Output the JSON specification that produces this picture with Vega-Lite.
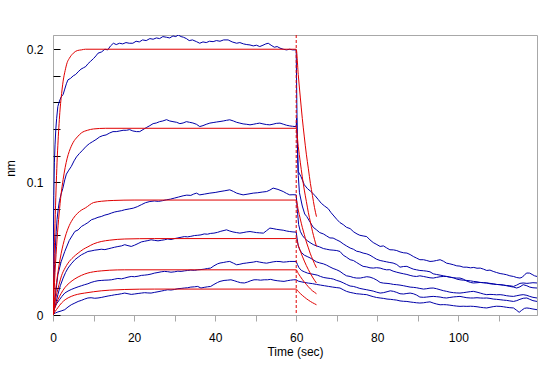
{
"$schema":"https://vega.github.io/schema/vega-lite/v6.json",
"width":484,"height":280,
"autosize":{"type":"none"},
"padding":{"left":53,"top":35,"right":10,"bottom":51},
"background":"white",
"config":{"view":{"stroke":"#a8a8a8","strokeWidth":1},"font":"Liberation Sans"},
"datasets":{
"blue":[
{"c":"A","t":0,"v":0},{"c":"A","t":0.1,"v":0.055},{"c":"A","t":0.2,"v":0.09},{"c":"A","t":0.35,"v":0.115},{"c":"A","t":0.5,"v":0.128},{"c":"A","t":0.7,"v":0.14},{"c":"A","t":0.9,"v":0.148},{"c":"A","t":1.2,"v":0.157},{"c":"A","t":1.6,"v":0.161},{"c":"A","t":2,"v":0.164},{"c":"A","t":2.5,"v":0.166},{"c":"A","t":2.9,"v":0.17},{"c":"A","t":3.3,"v":0.174},{"c":"A","t":3.7,"v":0.177},{"c":"A","t":4.3,"v":0.178},{"c":"A","t":5,"v":0.18},{"c":"A","t":5.6,"v":0.181},{"c":"A","t":6.2,"v":0.183},{"c":"A","t":6.9,"v":0.185},{"c":"A","t":7.5,"v":0.186},{"c":"A","t":8.1,"v":0.187},{"c":"A","t":8.6,"v":0.189},{"c":"A","t":9.3,"v":0.191},{"c":"A","t":10,"v":0.193},{"c":"A","t":10.6,"v":0.195},{"c":"A","t":11.1,"v":0.197},{"c":"A","t":12,"v":0.198},{"c":"A","t":12.8,"v":0.2},{"c":"A","t":13.5,"v":0.1995},{"c":"A","t":14.2,"v":0.2025},{"c":"A","t":14.9,"v":0.2045},{"c":"A","t":15.6,"v":0.2035},{"c":"A","t":16.4,"v":0.2045},{"c":"A","t":17.2,"v":0.204},{"c":"A","t":18,"v":0.205},{"c":"A","t":18.8,"v":0.2045},{"c":"A","t":19.7,"v":0.2045},{"c":"A","t":20.5,"v":0.206},{"c":"A","t":21.3,"v":0.2055},{"c":"A","t":22.1,"v":0.207},{"c":"A","t":23,"v":0.2065},{"c":"A","t":23.9,"v":0.208},{"c":"A","t":24.7,"v":0.2075},{"c":"A","t":25.5,"v":0.2085},{"c":"A","t":26.3,"v":0.208},{"c":"A","t":27.1,"v":0.2095},{"c":"A","t":28,"v":0.209},{"c":"A","t":28.8,"v":0.2085},{"c":"A","t":29.6,"v":0.21},{"c":"A","t":30.3,"v":0.2095},{"c":"A","t":30.9,"v":0.2107},{"c":"A","t":31.6,"v":0.2095},{"c":"A","t":32.2,"v":0.209},{"c":"A","t":32.9,"v":0.208},{"c":"A","t":33.6,"v":0.2065},{"c":"A","t":34.4,"v":0.207},{"c":"A","t":35.4,"v":0.2057},{"c":"A","t":36.2,"v":0.2045},{"c":"A","t":37,"v":0.2055},{"c":"A","t":37.8,"v":0.205},{"c":"A","t":38.6,"v":0.206},{"c":"A","t":39.5,"v":0.2057},{"c":"A","t":40.3,"v":0.2065},{"c":"A","t":41.2,"v":0.206},{"c":"A","t":42.1,"v":0.207},{"c":"A","t":43.2,"v":0.207},{"c":"A","t":44.2,"v":0.2055},{"c":"A","t":45.3,"v":0.2045},{"c":"A","t":46.1,"v":0.205},{"c":"A","t":47,"v":0.204},{"c":"A","t":47.8,"v":0.2035},{"c":"A","t":48.6,"v":0.2032},{"c":"A","t":49.4,"v":0.2025},{"c":"A","t":50.2,"v":0.203},{"c":"A","t":51,"v":0.202},{"c":"A","t":51.8,"v":0.203},{"c":"A","t":52.5,"v":0.204},{"c":"A","t":53.1,"v":0.2045},{"c":"A","t":53.8,"v":0.203},{"c":"A","t":54.6,"v":0.2015},{"c":"A","t":55.3,"v":0.202},{"c":"A","t":56,"v":0.2008},{"c":"A","t":56.8,"v":0.2},{"c":"A","t":57.6,"v":0.1995},{"c":"A","t":58.4,"v":0.2},{"c":"A","t":59.1,"v":0.1995},{"c":"A","t":60,"v":0.1995},{"c":"A","t":60.15,"v":0.16},{"c":"A","t":60.3,"v":0.125},{"c":"A","t":60.5,"v":0.108},{"c":"A","t":61.2,"v":0.104},{"c":"A","t":62,"v":0.098},{"c":"A","t":62.8,"v":0.095},{"c":"A","t":63.6,"v":0.093},{"c":"A","t":64.6,"v":0.09},{"c":"A","t":65.4,"v":0.087},{"c":"A","t":66.2,"v":0.084},{"c":"A","t":67,"v":0.082},{"c":"A","t":67.9,"v":0.08},{"c":"A","t":68.6,"v":0.077},{"c":"A","t":69.3,"v":0.0745},{"c":"A","t":70,"v":0.072},{"c":"A","t":70.8,"v":0.0695},{"c":"A","t":71.6,"v":0.068},{"c":"A","t":72.4,"v":0.066},{"c":"A","t":73.3,"v":0.065},{"c":"A","t":74.2,"v":0.0625},{"c":"A","t":75,"v":0.061},{"c":"A","t":75.7,"v":0.06},{"c":"A","t":76.5,"v":0.0595},{"c":"A","t":77.4,"v":0.059},{"c":"A","t":78.2,"v":0.0565},{"c":"A","t":79,"v":0.0545},{"c":"A","t":79.9,"v":0.053},{"c":"A","t":80.7,"v":0.0516},{"c":"A","t":81.5,"v":0.052},{"c":"A","t":82.3,"v":0.0505},{"c":"A","t":83.1,"v":0.0491},{"c":"A","t":84,"v":0.049},{"c":"A","t":84.8,"v":0.0485},{"c":"A","t":85.6,"v":0.0475},{"c":"A","t":86.5,"v":0.0468},{"c":"A","t":87.3,"v":0.0466},{"c":"A","t":88.1,"v":0.0455},{"c":"A","t":88.9,"v":0.044},{"c":"A","t":89.7,"v":0.0428},{"c":"A","t":90.5,"v":0.0416},{"c":"A","t":91.4,"v":0.0416},{"c":"A","t":92.2,"v":0.041},{"c":"A","t":93,"v":0.0403},{"c":"A","t":93.8,"v":0.0405},{"c":"A","t":94.6,"v":0.041},{"c":"A","t":95.5,"v":0.0416},{"c":"A","t":96.3,"v":0.0405},{"c":"A","t":97.1,"v":0.039},{"c":"A","t":97.9,"v":0.0385},{"c":"A","t":98.8,"v":0.0378},{"c":"A","t":99.6,"v":0.037},{"c":"A","t":100.4,"v":0.0368},{"c":"A","t":101.2,"v":0.036},{"c":"A","t":102.1,"v":0.036},{"c":"A","t":103,"v":0.0355},{"c":"A","t":103.8,"v":0.0358},{"c":"A","t":104.6,"v":0.0352},{"c":"A","t":105.4,"v":0.0353},{"c":"A","t":106.2,"v":0.0345},{"c":"A","t":107,"v":0.0335},{"c":"A","t":107.8,"v":0.0338},{"c":"A","t":108.6,"v":0.0328},{"c":"A","t":109.4,"v":0.032},{"c":"A","t":110.3,"v":0.0312},{"c":"A","t":111.1,"v":0.0308},{"c":"A","t":111.9,"v":0.0303},{"c":"A","t":112.7,"v":0.0295},{"c":"A","t":113.6,"v":0.029},{"c":"A","t":114.4,"v":0.0282},{"c":"A","t":115.2,"v":0.0278},{"c":"A","t":115.8,"v":0.0285},{"c":"A","t":116.4,"v":0.0305},{"c":"A","t":116.9,"v":0.0316},{"c":"A","t":117.6,"v":0.0315},{"c":"A","t":118.2,"v":0.0305},{"c":"A","t":118.8,"v":0.0295},{"c":"A","t":119.4,"v":0.029},
{"c":"B","t":0,"v":0},{"c":"B","t":0.2,"v":0.02},{"c":"B","t":0.4,"v":0.038},{"c":"B","t":0.6,"v":0.052},{"c":"B","t":0.8,"v":0.063},{"c":"B","t":1,"v":0.072},{"c":"B","t":1.3,"v":0.08},{"c":"B","t":1.6,"v":0.086},{"c":"B","t":2,"v":0.091},{"c":"B","t":2.4,"v":0.095},{"c":"B","t":2.9,"v":0.1017},{"c":"B","t":3.3,"v":0.106},{"c":"B","t":3.9,"v":0.109},{"c":"B","t":4.5,"v":0.1117},{"c":"B","t":5.2,"v":0.116},{"c":"B","t":5.8,"v":0.119},{"c":"B","t":6.5,"v":0.1215},{"c":"B","t":7.3,"v":0.124},{"c":"B","t":8.2,"v":0.127},{"c":"B","t":9,"v":0.129},{"c":"B","t":9.8,"v":0.1305},{"c":"B","t":10.6,"v":0.132},{"c":"B","t":11.5,"v":0.134},{"c":"B","t":12.3,"v":0.135},{"c":"B","t":13.1,"v":0.1355},{"c":"B","t":14,"v":0.137},{"c":"B","t":14.8,"v":0.138},{"c":"B","t":15.6,"v":0.138},{"c":"B","t":16.5,"v":0.1385},{"c":"B","t":17.3,"v":0.139},{"c":"B","t":18.1,"v":0.139},{"c":"B","t":18.9,"v":0.1395},{"c":"B","t":19.7,"v":0.1385},{"c":"B","t":20.6,"v":0.138},{"c":"B","t":21.4,"v":0.138},{"c":"B","t":22.2,"v":0.1395},{"c":"B","t":23,"v":0.141},{"c":"B","t":23.9,"v":0.1425},{"c":"B","t":24.7,"v":0.144},{"c":"B","t":25.5,"v":0.1445},{"c":"B","t":26.3,"v":0.1455},{"c":"B","t":27.1,"v":0.146},{"c":"B","t":28,"v":0.147},{"c":"B","t":28.8,"v":0.146},{"c":"B","t":29.6,"v":0.1455},{"c":"B","t":30.5,"v":0.145},{"c":"B","t":31.3,"v":0.144},{"c":"B","t":32.1,"v":0.1445},{"c":"B","t":32.9,"v":0.1455},{"c":"B","t":33.7,"v":0.145},{"c":"B","t":34.5,"v":0.1445},{"c":"B","t":35.4,"v":0.1435},{"c":"B","t":36.2,"v":0.1418},{"c":"B","t":37,"v":0.1425},{"c":"B","t":37.8,"v":0.1435},{"c":"B","t":38.7,"v":0.1444},{"c":"B","t":39.5,"v":0.1448},{"c":"B","t":40.3,"v":0.1452},{"c":"B","t":41.2,"v":0.1456},{"c":"B","t":42,"v":0.146},{"c":"B","t":42.8,"v":0.1465},{"c":"B","t":43.6,"v":0.1469},{"c":"B","t":44.5,"v":0.146},{"c":"B","t":45.3,"v":0.145},{"c":"B","t":46.1,"v":0.1444},{"c":"B","t":46.9,"v":0.1438},{"c":"B","t":47.8,"v":0.1435},{"c":"B","t":48.6,"v":0.1431},{"c":"B","t":49.4,"v":0.1435},{"c":"B","t":50.2,"v":0.144},{"c":"B","t":51,"v":0.1444},{"c":"B","t":51.8,"v":0.1438},{"c":"B","t":52.7,"v":0.1433},{"c":"B","t":53.5,"v":0.1431},{"c":"B","t":54.3,"v":0.1436},{"c":"B","t":55.1,"v":0.1442},{"c":"B","t":56,"v":0.1444},{"c":"B","t":56.8,"v":0.1436},{"c":"B","t":57.6,"v":0.1428},{"c":"B","t":58.4,"v":0.1423},{"c":"B","t":59.1,"v":0.142},{"c":"B","t":59.7,"v":0.1418},{"c":"B","t":60,"v":0.142},{"c":"B","t":60.1,"v":0.148},{"c":"B","t":60.3,"v":0.128},{"c":"B","t":60.5,"v":0.105},{"c":"B","t":60.8,"v":0.092},{"c":"B","t":61.5,"v":0.082},{"c":"B","t":62.1,"v":0.076},{"c":"B","t":62.6,"v":0.0741},{"c":"B","t":63.4,"v":0.07},{"c":"B","t":64.2,"v":0.066},{"c":"B","t":65,"v":0.0641},{"c":"B","t":65.8,"v":0.062},{"c":"B","t":66.7,"v":0.061},{"c":"B","t":67.5,"v":0.0595},{"c":"B","t":68.3,"v":0.058},{"c":"B","t":69.1,"v":0.0579},{"c":"B","t":70,"v":0.0565},{"c":"B","t":70.8,"v":0.0553},{"c":"B","t":71.6,"v":0.0535},{"c":"B","t":72.4,"v":0.052},{"c":"B","t":73.3,"v":0.0504},{"c":"B","t":74.1,"v":0.0495},{"c":"B","t":74.9,"v":0.048},{"c":"B","t":75.7,"v":0.0475},{"c":"B","t":76.5,"v":0.0466},{"c":"B","t":77.4,"v":0.046},{"c":"B","t":78.2,"v":0.045},{"c":"B","t":79,"v":0.0435},{"c":"B","t":79.8,"v":0.042},{"c":"B","t":80.7,"v":0.041},{"c":"B","t":81.5,"v":0.0405},{"c":"B","t":82.3,"v":0.04},{"c":"B","t":83.1,"v":0.0395},{"c":"B","t":83.9,"v":0.0391},{"c":"B","t":84.8,"v":0.038},{"c":"B","t":85.6,"v":0.036},{"c":"B","t":86.5,"v":0.0365},{"c":"B","t":87.3,"v":0.0366},{"c":"B","t":88.1,"v":0.0355},{"c":"B","t":88.9,"v":0.0345},{"c":"B","t":89.7,"v":0.034},{"c":"B","t":90.5,"v":0.0335},{"c":"B","t":91.4,"v":0.0333},{"c":"B","t":92.2,"v":0.033},{"c":"B","t":93,"v":0.0325},{"c":"B","t":93.8,"v":0.031},{"c":"B","t":94.6,"v":0.0305},{"c":"B","t":95.5,"v":0.03},{"c":"B","t":96.3,"v":0.0295},{"c":"B","t":97.1,"v":0.029},{"c":"B","t":97.9,"v":0.0285},{"c":"B","t":98.8,"v":0.028},{"c":"B","t":99.6,"v":0.027},{"c":"B","t":100.4,"v":0.0265},{"c":"B","t":101.2,"v":0.0262},{"c":"B","t":102.1,"v":0.026},{"c":"B","t":103,"v":0.0257},{"c":"B","t":103.7,"v":0.0253},{"c":"B","t":104.6,"v":0.025},{"c":"B","t":105.4,"v":0.0245},{"c":"B","t":106.2,"v":0.0243},{"c":"B","t":107,"v":0.0241},{"c":"B","t":107.8,"v":0.0235},{"c":"B","t":108.6,"v":0.0232},{"c":"B","t":109.4,"v":0.023},{"c":"B","t":110.3,"v":0.0228},{"c":"B","t":111.1,"v":0.0225},{"c":"B","t":111.9,"v":0.0222},{"c":"B","t":112.7,"v":0.022},{"c":"B","t":113.6,"v":0.0215},{"c":"B","t":114.4,"v":0.0225},{"c":"B","t":115.2,"v":0.0238},{"c":"B","t":116,"v":0.0241},{"c":"B","t":116.9,"v":0.0238},{"c":"B","t":117.6,"v":0.024},{"c":"B","t":118.4,"v":0.0243},{"c":"B","t":119.4,"v":0.0241},
{"c":"C","t":0,"v":0},{"c":"C","t":0.5,"v":0.012},{"c":"C","t":1.2,"v":0.0303},{"c":"C","t":2,"v":0.04},{"c":"C","t":2.9,"v":0.0478},{"c":"C","t":4,"v":0.056},{"c":"C","t":4.7,"v":0.0595},{"c":"C","t":5.4,"v":0.0629},{"c":"C","t":6.2,"v":0.064},{"c":"C","t":7,"v":0.0666},{"c":"C","t":7.8,"v":0.068},{"c":"C","t":8.6,"v":0.0695},{"c":"C","t":9.5,"v":0.0717},{"c":"C","t":10.3,"v":0.0725},{"c":"C","t":11.1,"v":0.0735},{"c":"C","t":11.9,"v":0.0741},{"c":"C","t":12.8,"v":0.0752},{"c":"C","t":13.6,"v":0.0758},{"c":"C","t":14.4,"v":0.0767},{"c":"C","t":15.2,"v":0.0775},{"c":"C","t":16,"v":0.078},{"c":"C","t":16.9,"v":0.0785},{"c":"C","t":17.7,"v":0.0792},{"c":"C","t":18.8,"v":0.0798},{"c":"C","t":19.8,"v":0.0804},{"c":"C","t":20.8,"v":0.0815},{"c":"C","t":21.8,"v":0.083},{"c":"C","t":22.8,"v":0.0845},{"c":"C","t":23.9,"v":0.0854},{"c":"C","t":25,"v":0.0858},{"c":"C","t":26,"v":0.0855},{"c":"C","t":27,"v":0.086},{"c":"C","t":28,"v":0.0867},{"c":"C","t":29,"v":0.0872},{"c":"C","t":30,"v":0.088},{"c":"C","t":31,"v":0.0888},{"c":"C","t":32.1,"v":0.0897},{"c":"C","t":33,"v":0.0902},{"c":"C","t":34,"v":0.09},{"c":"C","t":34.7,"v":0.091},{"c":"C","t":35.4,"v":0.0917},{"c":"C","t":36.2,"v":0.0904},{"c":"C","t":37.4,"v":0.091},{"c":"C","t":38.7,"v":0.0917},{"c":"C","t":40,"v":0.0922},{"c":"C","t":41.2,"v":0.0929},{"c":"C","t":42.4,"v":0.0935},{"c":"C","t":43.6,"v":0.0942},{"c":"C","t":44.5,"v":0.093},{"c":"C","t":45.3,"v":0.0917},{"c":"C","t":46.1,"v":0.091},{"c":"C","t":46.9,"v":0.0904},{"c":"C","t":48.1,"v":0.091},{"c":"C","t":49.4,"v":0.0917},{"c":"C","t":50.5,"v":0.092},{"c":"C","t":51.6,"v":0.0925},{"c":"C","t":52.7,"v":0.0929},{"c":"C","t":53.5,"v":0.094},{"c":"C","t":54.3,"v":0.0955},{"c":"C","t":55.5,"v":0.0945},{"c":"C","t":56.8,"v":0.0929},{"c":"C","t":57.6,"v":0.0915},{"c":"C","t":58.4,"v":0.0904},{"c":"C","t":59.2,"v":0.0905},{"c":"C","t":60,"v":0.0904},{"c":"C","t":60.3,"v":0.078},{"c":"C","t":60.6,"v":0.068},{"c":"C","t":61,"v":0.063},{"c":"C","t":61.5,"v":0.06},{"c":"C","t":62,"v":0.058},{"c":"C","t":62.7,"v":0.056},{"c":"C","t":63.4,"v":0.0545},{"c":"C","t":64.2,"v":0.053},{"c":"C","t":65,"v":0.052},{"c":"C","t":65.8,"v":0.0512},{"c":"C","t":66.7,"v":0.05},{"c":"C","t":67.5,"v":0.0495},{"c":"C","t":68.3,"v":0.049},{"c":"C","t":69.1,"v":0.0488},{"c":"C","t":70,"v":0.0485},{"c":"C","t":70.8,"v":0.0478},{"c":"C","t":71.6,"v":0.045},{"c":"C","t":72.4,"v":0.0435},{"c":"C","t":73.3,"v":0.0416},{"c":"C","t":74.1,"v":0.041},{"c":"C","t":74.9,"v":0.0395},{"c":"C","t":75.7,"v":0.038},{"c":"C","t":76.5,"v":0.0366},{"c":"C","t":77.4,"v":0.0362},{"c":"C","t":78.2,"v":0.0355},{"c":"C","t":79,"v":0.0353},{"c":"C","t":79.8,"v":0.0356},{"c":"C","t":80.7,"v":0.0353},{"c":"C","t":81.5,"v":0.0345},{"c":"C","t":82.3,"v":0.034},{"c":"C","t":83.1,"v":0.0341},{"c":"C","t":83.9,"v":0.033},{"c":"C","t":84.8,"v":0.0322},{"c":"C","t":85.6,"v":0.0316},{"c":"C","t":86.5,"v":0.031},{"c":"C","t":87.3,"v":0.0305},{"c":"C","t":88.1,"v":0.0298},{"c":"C","t":88.9,"v":0.0292},{"c":"C","t":89.7,"v":0.029},{"c":"C","t":90.5,"v":0.0295},{"c":"C","t":91.4,"v":0.029},{"c":"C","t":92.2,"v":0.0285},{"c":"C","t":93,"v":0.028},{"c":"C","t":93.8,"v":0.0278},{"c":"C","t":94.6,"v":0.0283},{"c":"C","t":95.5,"v":0.0288},{"c":"C","t":96.3,"v":0.029},{"c":"C","t":97.1,"v":0.029},{"c":"C","t":97.9,"v":0.0285},{"c":"C","t":98.8,"v":0.028},{"c":"C","t":99.6,"v":0.0278},{"c":"C","t":100.4,"v":0.0278},{"c":"C","t":101.2,"v":0.027},{"c":"C","t":102.1,"v":0.0255},{"c":"C","t":103,"v":0.0245},{"c":"C","t":103.7,"v":0.0241},{"c":"C","t":104.6,"v":0.0243},{"c":"C","t":105.4,"v":0.0245},{"c":"C","t":106.2,"v":0.0243},{"c":"C","t":107,"v":0.0241},{"c":"C","t":107.8,"v":0.0238},{"c":"C","t":108.6,"v":0.0235},{"c":"C","t":109.4,"v":0.023},{"c":"C","t":110.3,"v":0.0228},{"c":"C","t":111.1,"v":0.0225},{"c":"C","t":111.9,"v":0.022},{"c":"C","t":112.7,"v":0.0215},{"c":"C","t":113.6,"v":0.021},{"c":"C","t":114.4,"v":0.0203},{"c":"C","t":115.2,"v":0.0212},{"c":"C","t":116,"v":0.0228},{"c":"C","t":116.9,"v":0.022},{"c":"C","t":117.6,"v":0.021},{"c":"C","t":118.4,"v":0.0205},{"c":"C","t":119.4,"v":0.0203},
{"c":"D","t":0,"v":0},{"c":"D","t":0.4,"v":0.0053},{"c":"D","t":0.8,"v":0.01},{"c":"D","t":1.2,"v":0.0153},{"c":"D","t":1.8,"v":0.022},{"c":"D","t":2.5,"v":0.0278},{"c":"D","t":3.1,"v":0.032},{"c":"D","t":3.7,"v":0.0353},{"c":"D","t":4.5,"v":0.0385},{"c":"D","t":5.4,"v":0.0416},{"c":"D","t":6.2,"v":0.0435},{"c":"D","t":7,"v":0.0453},{"c":"D","t":7.8,"v":0.0465},{"c":"D","t":8.6,"v":0.0478},{"c":"D","t":9.4,"v":0.0482},{"c":"D","t":10.3,"v":0.0488},{"c":"D","t":11.1,"v":0.0491},{"c":"D","t":11.9,"v":0.0495},{"c":"D","t":12.8,"v":0.0492},{"c":"D","t":13.6,"v":0.0498},{"c":"D","t":14.4,"v":0.0504},{"c":"D","t":15.2,"v":0.051},{"c":"D","t":16,"v":0.0515},{"c":"D","t":16.9,"v":0.052},{"c":"D","t":17.7,"v":0.0529},{"c":"D","t":18.5,"v":0.0522},{"c":"D","t":19.3,"v":0.0516},{"c":"D","t":20.1,"v":0.0525},{"c":"D","t":21,"v":0.0538},{"c":"D","t":21.8,"v":0.055},{"c":"D","t":22.6,"v":0.0555},{"c":"D","t":23.4,"v":0.056},{"c":"D","t":24.2,"v":0.0566},{"c":"D","t":25,"v":0.0562},{"c":"D","t":25.9,"v":0.0558},{"c":"D","t":26.7,"v":0.0562},{"c":"D","t":27.5,"v":0.0566},{"c":"D","t":28.3,"v":0.0572},{"c":"D","t":29.1,"v":0.0568},{"c":"D","t":30,"v":0.0575},{"c":"D","t":30.8,"v":0.058},{"c":"D","t":31.6,"v":0.0585},{"c":"D","t":32.4,"v":0.059},{"c":"D","t":33.2,"v":0.0588},{"c":"D","t":34,"v":0.0592},{"c":"D","t":34.9,"v":0.0598},{"c":"D","t":35.7,"v":0.06},{"c":"D","t":36.5,"v":0.0603},{"c":"D","t":37.3,"v":0.061},{"c":"D","t":38.1,"v":0.0608},{"c":"D","t":38.9,"v":0.0614},{"c":"D","t":39.7,"v":0.0616},{"c":"D","t":40.6,"v":0.0622},{"c":"D","t":41.4,"v":0.063},{"c":"D","t":42.2,"v":0.0636},{"c":"D","t":42.8,"v":0.0641},{"c":"D","t":43.6,"v":0.0632},{"c":"D","t":44.4,"v":0.0625},{"c":"D","t":45.3,"v":0.062},{"c":"D","t":46.1,"v":0.0616},{"c":"D","t":46.9,"v":0.062},{"c":"D","t":47.7,"v":0.0625},{"c":"D","t":48.6,"v":0.0628},{"c":"D","t":49.4,"v":0.0624},{"c":"D","t":50.2,"v":0.062},{"c":"D","t":51,"v":0.0618},{"c":"D","t":51.9,"v":0.0616},{"c":"D","t":52.7,"v":0.0635},{"c":"D","t":53.5,"v":0.0654},{"c":"D","t":54.3,"v":0.065},{"c":"D","t":55.1,"v":0.0645},{"c":"D","t":56,"v":0.0641},{"c":"D","t":56.8,"v":0.0638},{"c":"D","t":57.6,"v":0.0632},{"c":"D","t":58.4,"v":0.0628},{"c":"D","t":59.2,"v":0.0625},{"c":"D","t":60,"v":0.0624},{"c":"D","t":60.2,"v":0.058},{"c":"D","t":60.5,"v":0.052},{"c":"D","t":60.9,"v":0.049},{"c":"D","t":61.3,"v":0.047},{"c":"D","t":62,"v":0.045},{"c":"D","t":62.7,"v":0.044},{"c":"D","t":63.4,"v":0.043},{"c":"D","t":64.2,"v":0.0415},{"c":"D","t":65,"v":0.04},{"c":"D","t":65.8,"v":0.0392},{"c":"D","t":66.7,"v":0.0385},{"c":"D","t":67.5,"v":0.0375},{"c":"D","t":68.3,"v":0.0362},{"c":"D","t":69.1,"v":0.035},{"c":"D","t":70,"v":0.034},{"c":"D","t":70.8,"v":0.0328},{"c":"D","t":71.6,"v":0.031},{"c":"D","t":72.4,"v":0.0295},{"c":"D","t":73.3,"v":0.029},{"c":"D","t":74.1,"v":0.0282},{"c":"D","t":74.9,"v":0.0278},{"c":"D","t":75.8,"v":0.0278},{"c":"D","t":76.6,"v":0.0283},{"c":"D","t":77.4,"v":0.0288},{"c":"D","t":78.2,"v":0.0285},{"c":"D","t":79.1,"v":0.0275},{"c":"D","t":79.9,"v":0.0262},{"c":"D","t":80.7,"v":0.0245},{"c":"D","t":81.5,"v":0.024},{"c":"D","t":82.4,"v":0.0238},{"c":"D","t":83.2,"v":0.0235},{"c":"D","t":84,"v":0.023},{"c":"D","t":84.8,"v":0.0228},{"c":"D","t":85.6,"v":0.0225},{"c":"D","t":86.5,"v":0.022},{"c":"D","t":87.3,"v":0.0215},{"c":"D","t":88.1,"v":0.021},{"c":"D","t":88.9,"v":0.0208},{"c":"D","t":89.7,"v":0.0205},{"c":"D","t":90.5,"v":0.02},{"c":"D","t":91.4,"v":0.0195},{"c":"D","t":92.2,"v":0.0198},{"c":"D","t":93,"v":0.0202},{"c":"D","t":93.8,"v":0.0203},{"c":"D","t":94.6,"v":0.0198},{"c":"D","t":95.5,"v":0.019},{"c":"D","t":96.3,"v":0.0183},{"c":"D","t":97.1,"v":0.0178},{"c":"D","t":97.9,"v":0.0172},{"c":"D","t":98.8,"v":0.0168},{"c":"D","t":99.6,"v":0.0166},{"c":"D","t":100.4,"v":0.0165},{"c":"D","t":101.2,"v":0.0168},{"c":"D","t":102.1,"v":0.0172},{"c":"D","t":103,"v":0.0176},{"c":"D","t":103.7,"v":0.0178},{"c":"D","t":104.6,"v":0.0172},{"c":"D","t":105.4,"v":0.0165},{"c":"D","t":106.2,"v":0.0158},{"c":"D","t":107,"v":0.0153},{"c":"D","t":107.8,"v":0.0155},{"c":"D","t":108.6,"v":0.0154},{"c":"D","t":109.4,"v":0.0152},{"c":"D","t":110.3,"v":0.0153},{"c":"D","t":111.1,"v":0.015},{"c":"D","t":111.9,"v":0.0145},{"c":"D","t":112.7,"v":0.0142},{"c":"D","t":113.6,"v":0.014},{"c":"D","t":114.4,"v":0.0145},{"c":"D","t":115.2,"v":0.015},{"c":"D","t":116,"v":0.0153},{"c":"D","t":116.9,"v":0.0148},{"c":"D","t":117.6,"v":0.014},{"c":"D","t":118.4,"v":0.0133},{"c":"D","t":119.4,"v":0.0128},
{"c":"E","t":0,"v":0},{"c":"E","t":0.4,"v":0.0053},{"c":"E","t":0.9,"v":0.0085},{"c":"E","t":1.6,"v":0.0115},{"c":"E","t":2.2,"v":0.014},{"c":"E","t":2.9,"v":0.0165},{"c":"E","t":3.7,"v":0.018},{"c":"E","t":4.5,"v":0.0192},{"c":"E","t":5.4,"v":0.0203},{"c":"E","t":6.2,"v":0.0212},{"c":"E","t":7,"v":0.022},{"c":"E","t":7.8,"v":0.0228},{"c":"E","t":8.6,"v":0.0235},{"c":"E","t":9.4,"v":0.0245},{"c":"E","t":10.3,"v":0.0253},{"c":"E","t":11.1,"v":0.0258},{"c":"E","t":11.9,"v":0.026},{"c":"E","t":12.8,"v":0.0262},{"c":"E","t":13.6,"v":0.0263},{"c":"E","t":14.4,"v":0.0265},{"c":"E","t":15.2,"v":0.027},{"c":"E","t":16,"v":0.0275},{"c":"E","t":16.9,"v":0.0272},{"c":"E","t":17.7,"v":0.0278},{"c":"E","t":18.5,"v":0.0285},{"c":"E","t":19.3,"v":0.029},{"c":"E","t":20.1,"v":0.0288},{"c":"E","t":21,"v":0.0292},{"c":"E","t":21.8,"v":0.0298},{"c":"E","t":22.6,"v":0.03},{"c":"E","t":23.4,"v":0.0303},{"c":"E","t":24.2,"v":0.0308},{"c":"E","t":25,"v":0.0315},{"c":"E","t":25.9,"v":0.032},{"c":"E","t":26.7,"v":0.0325},{"c":"E","t":27.5,"v":0.0328},{"c":"E","t":28.3,"v":0.0326},{"c":"E","t":29.1,"v":0.0322},{"c":"E","t":30,"v":0.0325},{"c":"E","t":30.8,"v":0.033},{"c":"E","t":31.6,"v":0.0328},{"c":"E","t":32.4,"v":0.0332},{"c":"E","t":33.2,"v":0.0335},{"c":"E","t":34,"v":0.0338},{"c":"E","t":34.9,"v":0.0336},{"c":"E","t":35.7,"v":0.034},{"c":"E","t":36.5,"v":0.0342},{"c":"E","t":37.3,"v":0.0345},{"c":"E","t":38.1,"v":0.035},{"c":"E","t":38.9,"v":0.0353},{"c":"E","t":39.7,"v":0.037},{"c":"E","t":40.6,"v":0.0385},{"c":"E","t":41.2,"v":0.0391},{"c":"E","t":42,"v":0.0395},{"c":"E","t":42.8,"v":0.04},{"c":"E","t":43.6,"v":0.0403},{"c":"E","t":44.5,"v":0.039},{"c":"E","t":45.3,"v":0.0378},{"c":"E","t":46.1,"v":0.0382},{"c":"E","t":46.9,"v":0.0388},{"c":"E","t":47.7,"v":0.0391},{"c":"E","t":48.6,"v":0.0395},{"c":"E","t":49.4,"v":0.0398},{"c":"E","t":50.2,"v":0.0403},{"c":"E","t":51,"v":0.0398},{"c":"E","t":51.9,"v":0.0393},{"c":"E","t":52.7,"v":0.039},{"c":"E","t":53.5,"v":0.0395},{"c":"E","t":54.3,"v":0.04},{"c":"E","t":55.1,"v":0.0403},{"c":"E","t":56,"v":0.0402},{"c":"E","t":56.8,"v":0.0398},{"c":"E","t":57.6,"v":0.04},{"c":"E","t":58.4,"v":0.0403},{"c":"E","t":59.2,"v":0.0403},{"c":"E","t":60,"v":0.0403},{"c":"E","t":60.3,"v":0.038},{"c":"E","t":60.7,"v":0.0355},{"c":"E","t":61.3,"v":0.0335},{"c":"E","t":62,"v":0.0325},{"c":"E","t":62.8,"v":0.0315},{"c":"E","t":63.6,"v":0.031},{"c":"E","t":64.4,"v":0.0305},{"c":"E","t":65.2,"v":0.03},{"c":"E","t":66,"v":0.029},{"c":"E","t":66.8,"v":0.0282},{"c":"E","t":67.6,"v":0.0278},{"c":"E","t":68.4,"v":0.0275},{"c":"E","t":69.2,"v":0.027},{"c":"E","t":70,"v":0.026},{"c":"E","t":70.8,"v":0.0253},{"c":"E","t":71.6,"v":0.0242},{"c":"E","t":72.4,"v":0.023},{"c":"E","t":73.3,"v":0.0218},{"c":"E","t":74.1,"v":0.0215},{"c":"E","t":74.9,"v":0.0208},{"c":"E","t":75.7,"v":0.02},{"c":"E","t":76.5,"v":0.0195},{"c":"E","t":77.4,"v":0.019},{"c":"E","t":78.2,"v":0.0185},{"c":"E","t":79,"v":0.018},{"c":"E","t":79.8,"v":0.0172},{"c":"E","t":80.7,"v":0.0165},{"c":"E","t":81.5,"v":0.0168},{"c":"E","t":82.4,"v":0.0175},{"c":"E","t":83.2,"v":0.0182},{"c":"E","t":84,"v":0.0178},{"c":"E","t":84.8,"v":0.017},{"c":"E","t":85.6,"v":0.016},{"c":"E","t":86.5,"v":0.0158},{"c":"E","t":87.3,"v":0.0162},{"c":"E","t":88.1,"v":0.0165},{"c":"E","t":88.9,"v":0.016},{"c":"E","t":89.7,"v":0.015},{"c":"E","t":90.5,"v":0.0135},{"c":"E","t":91.4,"v":0.0133},{"c":"E","t":92.2,"v":0.0135},{"c":"E","t":93,"v":0.0138},{"c":"E","t":93.8,"v":0.014},{"c":"E","t":94.6,"v":0.0138},{"c":"E","t":95.5,"v":0.0135},{"c":"E","t":96.3,"v":0.013},{"c":"E","t":97.1,"v":0.0128},{"c":"E","t":97.9,"v":0.0132},{"c":"E","t":98.8,"v":0.0136},{"c":"E","t":99.6,"v":0.0138},{"c":"E","t":100.4,"v":0.014},{"c":"E","t":101.2,"v":0.0135},{"c":"E","t":102.1,"v":0.013},{"c":"E","t":103,"v":0.0128},{"c":"E","t":103.7,"v":0.0128},{"c":"E","t":104.6,"v":0.013},{"c":"E","t":105.4,"v":0.0128},{"c":"E","t":106.2,"v":0.0127},{"c":"E","t":107,"v":0.0128},{"c":"E","t":107.8,"v":0.0125},{"c":"E","t":108.6,"v":0.012},{"c":"E","t":109.4,"v":0.0118},{"c":"E","t":110.3,"v":0.0115},{"c":"E","t":111.1,"v":0.0112},{"c":"E","t":111.9,"v":0.011},{"c":"E","t":112.7,"v":0.0106},{"c":"E","t":113.6,"v":0.0102},{"c":"E","t":114.4,"v":0.0108},{"c":"E","t":115.2,"v":0.0118},{"c":"E","t":116,"v":0.0126},{"c":"E","t":116.9,"v":0.0128},{"c":"E","t":117.6,"v":0.0118},{"c":"E","t":118.4,"v":0.0108},{"c":"E","t":119.4,"v":0.0102},
{"c":"F","t":0,"v":0.0005},{"c":"F","t":0.6,"v":0.0015},{"c":"F","t":1.2,"v":0.0023},{"c":"F","t":2,"v":0.003},{"c":"F","t":2.9,"v":0.004},{"c":"F","t":3.7,"v":0.006},{"c":"F","t":4.5,"v":0.0077},{"c":"F","t":5.4,"v":0.009},{"c":"F","t":6.2,"v":0.0102},{"c":"F","t":7,"v":0.011},{"c":"F","t":7.8,"v":0.012},{"c":"F","t":8.6,"v":0.0128},{"c":"F","t":9.4,"v":0.013},{"c":"F","t":10.3,"v":0.0126},{"c":"F","t":11.1,"v":0.0128},{"c":"F","t":11.9,"v":0.0132},{"c":"F","t":12.8,"v":0.0138},{"c":"F","t":13.6,"v":0.0143},{"c":"F","t":14.4,"v":0.0147},{"c":"F","t":15.2,"v":0.0152},{"c":"F","t":16,"v":0.0155},{"c":"F","t":16.9,"v":0.016},{"c":"F","t":17.7,"v":0.0165},{"c":"F","t":18.5,"v":0.016},{"c":"F","t":19.3,"v":0.0155},{"c":"F","t":20.1,"v":0.0158},{"c":"F","t":21,"v":0.0162},{"c":"F","t":21.8,"v":0.0165},{"c":"F","t":22.6,"v":0.0168},{"c":"F","t":23.4,"v":0.0166},{"c":"F","t":24.2,"v":0.0165},{"c":"F","t":25,"v":0.017},{"c":"F","t":25.9,"v":0.0175},{"c":"F","t":26.7,"v":0.018},{"c":"F","t":27.5,"v":0.0185},{"c":"F","t":28.3,"v":0.019},{"c":"F","t":29.1,"v":0.0188},{"c":"F","t":30,"v":0.0192},{"c":"F","t":30.8,"v":0.0198},{"c":"F","t":31.6,"v":0.02},{"c":"F","t":32.4,"v":0.0203},{"c":"F","t":33.2,"v":0.0205},{"c":"F","t":34,"v":0.021},{"c":"F","t":34.9,"v":0.0212},{"c":"F","t":35.7,"v":0.0215},{"c":"F","t":36.5,"v":0.0203},{"c":"F","t":37.3,"v":0.0208},{"c":"F","t":38.1,"v":0.0212},{"c":"F","t":38.9,"v":0.0215},{"c":"F","t":39.7,"v":0.023},{"c":"F","t":40.6,"v":0.0245},{"c":"F","t":41.2,"v":0.0253},{"c":"F","t":42.2,"v":0.026},{"c":"F","t":43,"v":0.0262},{"c":"F","t":43.9,"v":0.0265},{"c":"F","t":44.7,"v":0.0258},{"c":"F","t":45.5,"v":0.025},{"c":"F","t":46.3,"v":0.0243},{"c":"F","t":47.2,"v":0.0241},{"c":"F","t":48,"v":0.0248},{"c":"F","t":48.8,"v":0.0258},{"c":"F","t":49.6,"v":0.0265},{"c":"F","t":50.4,"v":0.0265},{"c":"F","t":51.2,"v":0.0262},{"c":"F","t":52.1,"v":0.0265},{"c":"F","t":52.9,"v":0.0265},{"c":"F","t":53.7,"v":0.0268},{"c":"F","t":54.5,"v":0.0262},{"c":"F","t":55.3,"v":0.0258},{"c":"F","t":56.2,"v":0.0255},{"c":"F","t":57,"v":0.0253},{"c":"F","t":57.8,"v":0.0258},{"c":"F","t":58.6,"v":0.0262},{"c":"F","t":59.4,"v":0.0265},{"c":"F","t":60,"v":0.0265},{"c":"F","t":60.5,"v":0.0255},{"c":"F","t":61.2,"v":0.025},{"c":"F","t":62,"v":0.0245},{"c":"F","t":63,"v":0.024},{"c":"F","t":64,"v":0.0236},{"c":"F","t":65,"v":0.023},{"c":"F","t":66,"v":0.0225},{"c":"F","t":67,"v":0.022},{"c":"F","t":68,"v":0.0215},{"c":"F","t":69,"v":0.021},{"c":"F","t":70,"v":0.0206},{"c":"F","t":70.8,"v":0.0203},{"c":"F","t":71.6,"v":0.019},{"c":"F","t":72.4,"v":0.0178},{"c":"F","t":73.3,"v":0.017},{"c":"F","t":74.1,"v":0.0165},{"c":"F","t":74.9,"v":0.016},{"c":"F","t":75.7,"v":0.0158},{"c":"F","t":76.6,"v":0.0155},{"c":"F","t":77.4,"v":0.0153},{"c":"F","t":78.2,"v":0.0145},{"c":"F","t":79,"v":0.0138},{"c":"F","t":79.8,"v":0.0132},{"c":"F","t":80.7,"v":0.0128},{"c":"F","t":81.5,"v":0.0125},{"c":"F","t":82.4,"v":0.012},{"c":"F","t":83.2,"v":0.0118},{"c":"F","t":84,"v":0.0115},{"c":"F","t":84.8,"v":0.0112},{"c":"F","t":85.6,"v":0.0106},{"c":"F","t":86.5,"v":0.0103},{"c":"F","t":87.3,"v":0.0102},{"c":"F","t":88.1,"v":0.0098},{"c":"F","t":88.9,"v":0.0095},{"c":"F","t":89.7,"v":0.0092},{"c":"F","t":90.5,"v":0.009},{"c":"F","t":91.4,"v":0.0092},{"c":"F","t":92.2,"v":0.0096},{"c":"F","t":93,"v":0.0099},{"c":"F","t":93.8,"v":0.009},{"c":"F","t":94.6,"v":0.0083},{"c":"F","t":95.5,"v":0.0077},{"c":"F","t":96.3,"v":0.0078},{"c":"F","t":97.1,"v":0.0077},{"c":"F","t":97.9,"v":0.0074},{"c":"F","t":98.8,"v":0.007},{"c":"F","t":99.6,"v":0.0067},{"c":"F","t":100.4,"v":0.0065},{"c":"F","t":101.2,"v":0.0066},{"c":"F","t":102.1,"v":0.0065},{"c":"F","t":103,"v":0.0066},{"c":"F","t":103.7,"v":0.0065},{"c":"F","t":104.6,"v":0.0062},{"c":"F","t":105.4,"v":0.0058},{"c":"F","t":106.2,"v":0.0055},{"c":"F","t":107,"v":0.0053},{"c":"F","t":107.8,"v":0.0058},{"c":"F","t":108.6,"v":0.0063},{"c":"F","t":109.4,"v":0.0066},{"c":"F","t":110.3,"v":0.0065},{"c":"F","t":111.1,"v":0.0062},{"c":"F","t":111.9,"v":0.0058},{"c":"F","t":112.7,"v":0.0055},{"c":"F","t":113.6,"v":0.0053},{"c":"F","t":114.4,"v":0.0035},{"c":"F","t":115,"v":0.002},{"c":"F","t":115.6,"v":0.0035},{"c":"F","t":116.3,"v":0.005},{"c":"F","t":116.9,"v":0.0053},{"c":"F","t":117.6,"v":0.005},{"c":"F","t":118.4,"v":0.0045},{"c":"F","t":119.4,"v":0.004}
],
"red":[
{"c":"A","t":0,"v":0},{"c":"A","t":0.25,"v":0.038},{"c":"A","t":0.5,"v":0.069},{"c":"A","t":0.75,"v":0.094},{"c":"A","t":1,"v":0.115},{"c":"A","t":1.25,"v":0.131},{"c":"A","t":1.5,"v":0.144},{"c":"A","t":1.75,"v":0.155},{"c":"A","t":2,"v":0.163},{"c":"A","t":2.5,"v":0.176},{"c":"A","t":3,"v":0.184},{"c":"A","t":3.5,"v":0.19},{"c":"A","t":4,"v":0.193},{"c":"A","t":5,"v":0.197},{"c":"A","t":6,"v":0.199},{"c":"A","t":7,"v":0.1995},{"c":"A","t":8,"v":0.2},{"c":"A","t":60,"v":0.2},{"c":"A","t":60.5,"v":0.181},{"c":"A","t":61,"v":0.164},{"c":"A","t":61.5,"v":0.148},{"c":"A","t":62,"v":0.134},{"c":"A","t":62.5,"v":0.121},{"c":"A","t":63,"v":0.11},{"c":"A","t":63.5,"v":0.099},{"c":"A","t":64,"v":0.09},{"c":"A","t":64.5,"v":0.081},{"c":"A","t":65,"v":0.074},
{"c":"B","t":0,"v":0},{"c":"B","t":0.5,"v":0.032},{"c":"B","t":1,"v":0.057},{"c":"B","t":1.5,"v":0.076},{"c":"B","t":2,"v":0.091},{"c":"B","t":2.5,"v":0.102},{"c":"B","t":3,"v":0.111},{"c":"B","t":3.5,"v":0.118},{"c":"B","t":4,"v":0.123},{"c":"B","t":5,"v":0.13},{"c":"B","t":6,"v":0.134},{"c":"B","t":7,"v":0.137},{"c":"B","t":8.5,"v":0.139},{"c":"B","t":10,"v":0.14},{"c":"B","t":13,"v":0.1405},{"c":"B","t":60,"v":0.1405},{"c":"B","t":60.5,"v":0.127},{"c":"B","t":61,"v":0.115},{"c":"B","t":61.5,"v":0.104},{"c":"B","t":62,"v":0.094},{"c":"B","t":62.5,"v":0.0855},{"c":"B","t":63,"v":0.077},{"c":"B","t":63.5,"v":0.07},{"c":"B","t":64,"v":0.063},{"c":"B","t":64.5,"v":0.057},{"c":"B","t":65,"v":0.0516},
{"c":"C","t":0,"v":0},{"c":"C","t":0.5,"v":0.0153},{"c":"C","t":1,"v":0.0274},{"c":"C","t":1.5,"v":0.0376},{"c":"C","t":2,"v":0.0461},{"c":"C","t":2.5,"v":0.053},{"c":"C","t":3,"v":0.0587},{"c":"C","t":3.5,"v":0.0634},{"c":"C","t":4,"v":0.0672},{"c":"C","t":5,"v":0.0727},{"c":"C","t":6,"v":0.0764},{"c":"C","t":7,"v":0.0789},{"c":"C","t":8,"v":0.0806},{"c":"C","t":10,"v":0.0846},{"c":"C","t":12,"v":0.0856},{"c":"C","t":15,"v":0.0862},{"c":"C","t":20,"v":0.0865},{"c":"C","t":60,"v":0.0865},{"c":"C","t":60.5,"v":0.079},{"c":"C","t":61,"v":0.0723},{"c":"C","t":61.5,"v":0.066},{"c":"C","t":62,"v":0.0605},{"c":"C","t":62.5,"v":0.055},{"c":"C","t":63,"v":0.0505},{"c":"C","t":63.5,"v":0.046},{"c":"C","t":64,"v":0.0423},{"c":"C","t":64.5,"v":0.0387},{"c":"C","t":65,"v":0.0355},
{"c":"D","t":0,"v":0},{"c":"D","t":0.5,"v":0.0095},{"c":"D","t":1,"v":0.017},{"c":"D","t":1.5,"v":0.023},{"c":"D","t":2.1,"v":0.0295},{"c":"D","t":3,"v":0.0355},{"c":"D","t":3.7,"v":0.039},{"c":"D","t":5,"v":0.0435},{"c":"D","t":6.2,"v":0.0466},{"c":"D","t":7.5,"v":0.0495},{"c":"D","t":8.6,"v":0.0513},{"c":"D","t":10,"v":0.0535},{"c":"D","t":11.9,"v":0.0553},{"c":"D","t":14,"v":0.0563},{"c":"D","t":17.7,"v":0.0572},{"c":"D","t":25,"v":0.0575},{"c":"D","t":60,"v":0.0575},{"c":"D","t":60.5,"v":0.0525},{"c":"D","t":61,"v":0.0483},{"c":"D","t":61.5,"v":0.0443},{"c":"D","t":62,"v":0.0406},{"c":"D","t":62.5,"v":0.0372},{"c":"D","t":63,"v":0.0341},{"c":"D","t":63.5,"v":0.0313},{"c":"D","t":64,"v":0.0286},{"c":"D","t":64.5,"v":0.0262},{"c":"D","t":65,"v":0.024},
{"c":"E","t":0,"v":0},{"c":"E","t":0.5,"v":0.0058},{"c":"E","t":1.2,"v":0.0115},{"c":"E","t":2,"v":0.0162},{"c":"E","t":2.9,"v":0.0205},{"c":"E","t":4,"v":0.024},{"c":"E","t":5.4,"v":0.0272},{"c":"E","t":7,"v":0.0298},{"c":"E","t":8.6,"v":0.0316},{"c":"E","t":10,"v":0.0325},{"c":"E","t":11.9,"v":0.0332},{"c":"E","t":14,"v":0.0337},{"c":"E","t":17.7,"v":0.034},{"c":"E","t":60,"v":0.034},{"c":"E","t":60.5,"v":0.0313},{"c":"E","t":61,"v":0.029},{"c":"E","t":61.5,"v":0.0268},{"c":"E","t":62,"v":0.0248},{"c":"E","t":62.5,"v":0.023},{"c":"E","t":63,"v":0.0212},{"c":"E","t":63.5,"v":0.0196},{"c":"E","t":64,"v":0.0182},{"c":"E","t":64.5,"v":0.0171},{"c":"E","t":65,"v":0.016},
{"c":"F","t":0,"v":0},{"c":"F","t":0.5,"v":0.0025},{"c":"F","t":1.2,"v":0.0055},{"c":"F","t":2.1,"v":0.009},{"c":"F","t":3,"v":0.0115},{"c":"F","t":4.5,"v":0.014},{"c":"F","t":6,"v":0.0155},{"c":"F","t":7.8,"v":0.0165},{"c":"F","t":10,"v":0.0175},{"c":"F","t":11.9,"v":0.0182},{"c":"F","t":14,"v":0.0187},{"c":"F","t":17.7,"v":0.0192},{"c":"F","t":25,"v":0.0195},{"c":"F","t":60,"v":0.0195},{"c":"F","t":60.5,"v":0.0177},{"c":"F","t":61,"v":0.0162},{"c":"F","t":61.5,"v":0.0148},{"c":"F","t":62,"v":0.0135},{"c":"F","t":62.5,"v":0.0123},{"c":"F","t":63,"v":0.0112},{"c":"F","t":63.5,"v":0.0102},{"c":"F","t":64,"v":0.0093},{"c":"F","t":64.5,"v":0.0085},{"c":"F","t":65,"v":0.0077}
],
"cut":[{"t":60}]
},
"resolve":{"axis":{"y":"independent"}},
"layer":[
{"data":{"name":"blue"},
 "mark":{"type":"line","color":"#0000a8","strokeWidth":1,"clip":true},
 "encoding":{
  "x":{"field":"t","type":"quantitative","scale":{"domain":[0,119.4],"nice":false,"zero":false},
   "axis":{"title":"Time (sec)","values":[0,5,10,15,20,25,30,35,40,45,50,55,60,65,70,75,80,85,90,95,100,105,110,115],"format":"d","labelExpr":"datum.value % 20 === 0 ? datum.label : ''","labelFlush":false,"labelOverlap":false,"grid":false,"tickSize":6,"tickColor":"#a8a8a8","domainColor":"#a8a8a8","labelPadding":11,"labelFontSize":12,"labelColor":"#000000","labelFont":"Liberation Sans","titleFont":"Liberation Sans","titleFontSize":12,"titleFontWeight":"normal","titleColor":"#000000","titlePadding":3}},
  "y":{"field":"v","type":"quantitative","scale":{"domain":[0,0.2107],"nice":false},
   "axis":{"orient":"left","title":"nm","values":[0,0.1,0.2],"labelExpr":"datum.value == 0 ? '0' : format(datum.value, '.1f')","labelOverlap":false,"labelFlush":false,"grid":false,"tickSize":-7,"tickColor":"#000000","domainColor":"#a8a8a8","labelPadding":17,"labelFontSize":12,"labelColor":"#000000","labelFont":"Liberation Sans","titleFont":"Liberation Sans","titleFontSize":12,"titleFontWeight":"normal","titleColor":"#000000","titleX":-36,"titleY":133}},
  "detail":{"field":"c"}
 }},
{"data":{"name":"red"},
 "mark":{"type":"line","color":"#e00000","strokeWidth":1,"clip":true,"interpolate":"monotone"},
 "encoding":{"x":{"field":"t","type":"quantitative"},
  "y":{"field":"v","type":"quantitative","axis":{"orient":"left","title":null,"values":[0.02,0.04,0.06,0.08,0.12,0.14,0.16,0.18],"labels":false,"domain":false,"grid":false,"tickSize":-7,"tickColor":"#000000"}},
  "detail":{"field":"c"}}},
{"data":{"name":"cut"},
 "mark":{"type":"rule","color":"#e00000","strokeDash":[3,2],"strokeWidth":1},
 "encoding":{"x":{"field":"t","type":"quantitative"}}}
]
}
